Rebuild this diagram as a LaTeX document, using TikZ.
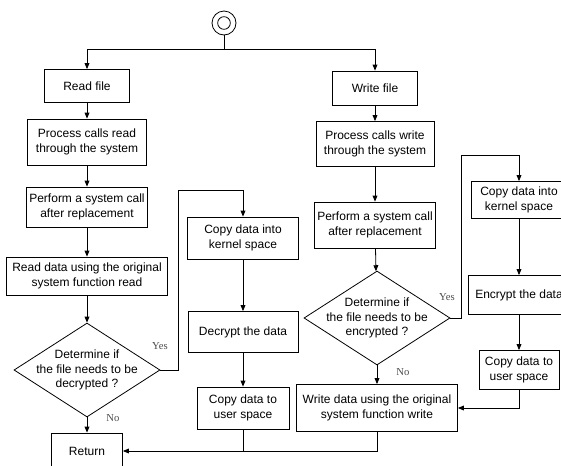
\documentclass[tikz,border=0pt]{standalone}
\usepackage{fontspec}
\setmainfont{Liberation Sans}
\newfontfamily\yesnofont{Liberation Serif}
\usetikzlibrary{shapes.geometric,arrows.meta}

\begin{document}
\begin{tikzpicture}[x=0.75pt,y=-0.75pt,>={Triangle[length=4.5pt,width=3.6pt]},line width=0.6pt,
    every node/.style={font=\fontsize{9}{10.8}\selectfont},
    proc/.style={draw,align=center,inner sep=2pt},
    decision/.style={draw,diamond,minimum width=109.5pt,minimum height=70.5pt,inner sep=0pt},
    yesno/.style={font=\yesnofont\fontsize{8}{9}\selectfont,text=black!70}]
    \useasboundingbox (0,0) rectangle (561,465);
    \node[draw,circle,minimum size=18pt,inner sep=0pt] (start) at (224,23) {};
    \node[draw,circle,minimum size=9.5pt,inner sep=0pt] (startin) at (start) {};
    \coordinate (split) at (224,49);
    % read side
    \node[proc,minimum width=63.75pt,minimum height=24.75pt] (rfile) at (87,86) {Read file};
    \node[proc,minimum width=89.25pt,minimum height=34.5pt] (rproc) at (87,142) {Process calls read\\through the system};
    \node[proc,minimum width=90.75pt,minimum height=30pt] (rcall) at (87,207) {Perform a system call\\after replacement};
    \node[proc,minimum width=120.75pt,minimum height=28.5pt] (rread) at (87,276) {Read data using the original\\system function read};
    \node[decision,label={[align=center]center:Determine if\\the file needs to be\\decrypted ?}] (rdec) at (87,370) {};
    \node[proc,minimum width=53.25pt,minimum height=27pt] (ret) at (87,451) {Return};
    \node[proc,minimum width=83.25pt,minimum height=31.5pt] (rkern) at (243,238) {Copy data into\\kernel space};
    \node[proc,minimum width=82.5pt,minimum height=30.75pt] (rdecrypt) at (243,332) {Decrypt the data};
    \node[proc,minimum width=69pt,minimum height=31.5pt] (rcopy) at (243,408) {Copy data to\\user space};
    \coordinate (rturn) at (178,190);
    % write side
    \node[proc,minimum width=63.75pt,minimum height=25.5pt] (wfile) at (375,88) {Write file};
    \node[proc,minimum width=88.5pt,minimum height=33.75pt] (wproc) at (375,144) {Process calls write\\through the system};
    \node[proc,minimum width=90.75pt,minimum height=34.5pt] (wcall) at (375,225) {Perform a system call\\after replacement};
    \node[decision,label={[align=center]center:Determine if\\the file needs to be\\encrypted ?}] (wdec) at (377,318) {};
    \node[proc,minimum width=120.75pt,minimum height=35.25pt] (wwrite) at (377,408) {Write data using the original\\system function write};
    \node[proc,minimum width=72pt,minimum height=27.75pt] (wkern) at (519,200) {Copy data into\\kernel space};
    \node[proc,minimum width=76.5pt,minimum height=29.25pt] (wenc) at (519,295) {Encrypt the data};
    \node[proc,minimum width=60pt,minimum height=29.25pt] (wcopy) at (519,370) {Copy data to\\user space};
    \coordinate (wturn) at (461,155);
    % yes / no
    \node[yesno] (ryes) at (160,346) {Yes};
    \node[yesno] (rno) at (113,418) {No};
    \node[yesno] (wyes) at (447,297) {Yes};
    \node[yesno] (wno) at (403,372) {No};
    % connectors
    \draw (start) -- (split);
    \draw[->] (split) -| (rfile);
    \draw[->] (split) -| (wfile);
    \foreach \a/\b in {rfile/rproc,rproc/rcall,rcall/rread,rread/rdec,rdec/ret,rkern/rdecrypt,rdecrypt/rcopy,
        wfile/wproc,wproc/wcall,wcall/wdec,wdec/wwrite,wkern/wenc,wenc/wcopy}
        \draw[->] (\a) -- (\b);
    \draw[->] (rdec.east) -| (rturn) -| (rkern.north);
    \draw[->] (wdec.east) -| (wturn) -| (wkern.north);
    \draw[->] (wcopy.south) |- (wwrite.east);
    \draw[->] (wwrite.south) |- (ret.east);
    \draw (rcopy.south) -- (rcopy.south |- ret.east);
\end{tikzpicture}
\end{document}
